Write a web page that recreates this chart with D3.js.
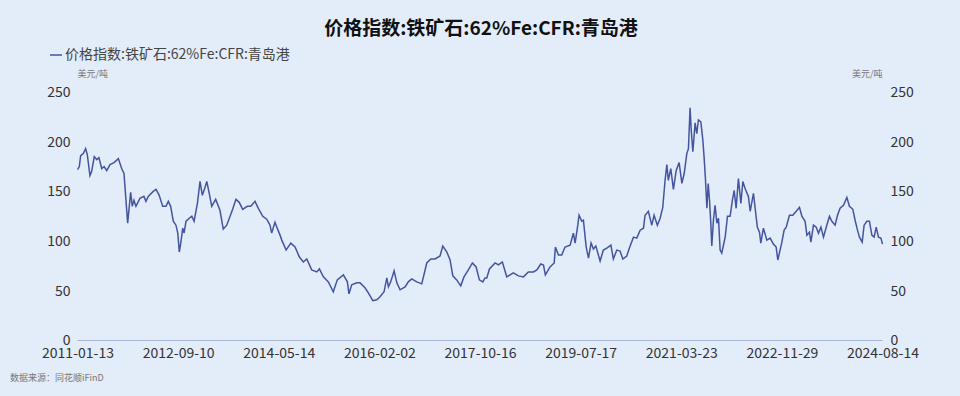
<!DOCTYPE html>
<meta charset="utf-8">
<script src="https://cdn.jsdelivr.net/npm/d3@7/dist/d3.min.js"></script>
<style>
body {
  margin: 0;
  background: #e3ecf9;
  font-family: "Microsoft YaHei", "Noto Sans CJK SC", sans-serif;
}
.title {
  font-size: 19px;
  font-weight: bold;
  fill: #111;
}
.legend-text {
  font-size: 14px;
  fill: #444;
}
.unit, .source {
  font-size: 9px;
  fill: #777;
}
.axis text {
  font-size: 14px;
  fill: #333;
  font-family: "Microsoft YaHei", "Noto Sans CJK SC", sans-serif;
}
.axis--x path {
  stroke: #a9b8d2;
}
.line {
  fill: none;
  stroke: #4455a0;
  stroke-width: 1.5px;
}
</style>
<body>
<div id="chart"></div>
<script>
var seriesName = "价格指数:铁矿石:62%Fe:CFR:青岛港";
var unitLabel = "美元/吨";
var sourceLabel = "数据来源：同花顺iFinD";

var tickLabels = ["2011-01-13", "2012-09-10", "2014-05-14", "2016-02-02", "2017-10-16",
  "2019-07-17", "2021-03-23", "2022-11-29", "2024-08-14"];
var yTicks = [0, 50, 100, 150, 200, 250];

var dates = [
  "2011-01-13","2011-01-24","2011-02-01","2011-02-17","2011-03-03","2011-03-13","2011-03-29","2011-04-08",
  "2011-04-24","2011-05-09","2011-05-22","2011-06-08","2011-06-22","2011-07-08","2011-07-28","2011-08-21",
  "2011-09-16","2011-10-06","2011-10-20","2011-11-01","2011-11-11","2011-11-21","2011-11-29","2011-12-09",
  "2011-12-19","2011-12-31","2012-01-24","2012-02-17","2012-02-29","2012-03-14","2012-04-13","2012-04-30",
  "2012-05-19","2012-06-09","2012-06-29","2012-07-13","2012-07-27","2012-08-12","2012-08-28","2012-09-08",
  "2012-09-17","2012-09-26","2012-10-08","2012-10-16","2012-10-28","2012-11-17","2012-12-02","2012-12-16",
  "2013-01-05","2013-01-21","2013-02-04","2013-02-20","2013-03-03","2013-03-18","2013-04-02","2013-04-26",
  "2013-05-22","2013-06-11","2013-07-02","2013-07-18","2013-08-07","2013-08-27","2013-09-16","2013-10-07",
  "2013-11-04","2013-11-25","2013-12-21","2014-01-10","2014-02-06","2014-03-02","2014-03-22","2014-04-01",
  "2014-04-21","2014-05-05","2014-05-22","2014-06-02","2014-06-29","2014-07-28","2014-08-24","2014-09-20",
  "2014-10-15","2014-11-05","2014-12-06","2015-01-07","2015-01-23","2015-02-17","2015-03-20","2015-04-20",
  "2015-05-15","2015-06-22","2015-07-17","2015-07-27","2015-08-13","2015-09-14","2015-10-04","2015-11-04",
  "2015-11-25","2015-12-23","2016-01-17","2016-02-06","2016-03-02","2016-03-19","2016-03-29","2016-04-12",
  "2016-05-03","2016-05-20","2016-06-09","2016-07-10","2016-07-30","2016-08-20","2016-09-20","2016-10-21",
  "2016-11-21","2016-12-16","2017-01-11","2017-02-11","2017-02-28","2017-03-25","2017-04-14","2017-05-01",
  "2017-05-25","2017-06-19","2017-07-09","2017-08-05","2017-08-30","2017-09-22","2017-10-12","2017-11-03",
  "2017-11-17","2017-11-28","2017-12-15","2018-01-20","2018-02-10","2018-03-07","2018-04-04","2018-05-16",
  "2018-06-17","2018-07-19","2018-08-19","2018-09-20","2018-10-12","2018-11-06","2018-11-23","2018-12-05",
  "2019-01-04","2019-01-30","2019-02-07","2019-02-26","2019-03-19","2019-04-09","2019-05-11","2019-06-01",
  "2019-06-12","2019-06-29","2019-07-07","2019-07-24","2019-08-03","2019-08-20","2019-09-03","2019-09-19",
  "2019-10-03","2019-10-18","2019-11-13","2019-12-03","2019-12-24","2020-01-18","2020-02-02","2020-02-23",
  "2020-03-14","2020-03-31","2020-04-24","2020-05-10","2020-06-04","2020-06-24","2020-07-15","2020-08-04",
  "2020-08-14","2020-09-03","2020-09-24","2020-10-08","2020-10-28","2020-11-14","2020-11-30","2020-12-14",
  "2020-12-25","2021-01-03","2021-01-18","2021-02-03","2021-02-20","2021-03-10","2021-03-27","2021-04-10",
  "2021-04-26","2021-05-06","2021-05-16","2021-05-23","2021-06-02","2021-06-16","2021-06-26","2021-07-06",
  "2021-07-21","2021-08-02","2021-08-10","2021-08-18","2021-08-27","2021-09-04","2021-09-12","2021-09-20",
  "2021-09-26","2021-10-06","2021-10-16","2021-10-27","2021-11-06","2021-11-16","2021-11-26","2021-12-17",
  "2021-12-31","2022-01-16","2022-01-30","2022-02-10","2022-02-22","2022-03-08","2022-03-23","2022-04-04",
  "2022-04-18","2022-05-08","2022-05-19","2022-06-08","2022-06-24","2022-07-02","2022-07-15","2022-07-23",
  "2022-08-08","2022-08-29","2022-09-18","2022-10-08","2022-10-25","2022-11-04","2022-11-18","2022-11-29",
  "2022-12-13","2022-12-26","2023-01-15","2023-02-05","2023-02-26","2023-03-18","2023-04-02","2023-04-22",
  "2023-05-03","2023-05-19","2023-05-28","2023-06-13","2023-06-30","2023-07-14","2023-07-29","2023-08-14",
  "2023-08-31","2023-09-20","2023-10-05","2023-10-25","2023-11-09","2023-11-25","2023-12-16","2024-01-06",
  "2024-01-22","2024-02-12","2024-02-26","2024-03-12","2024-03-24","2024-04-10","2024-04-22","2024-05-09",
  "2024-05-25","2024-06-09","2024-06-23","2024-07-06","2024-07-20","2024-08-04","2024-08-14"
];

var prices = [
  172,175,186,188,193,187,166,170,
  185,182,184,173,175,171,177,179,
  183,173,168,141,118,135,149,135,
  141,135,143,145,140,145,150,152,
  146,135,135,140,135,120,116,108,
  89,98,113,108,120,123,125,120,
  138,160,146,154,160,148,135,142,
  131,112,116,123,132,142,139,132,
  135,135,140,133,125,122,116,108,
  119,113,106,101,91,98,94,84,
  79,82,71,69,72,64,59,49,
  61,66,59,47,56,58,58,53,
  48,40,41,44,49,63,54,59,
  70,58,51,54,59,62,59,57,
  78,82,82,85,95,89,81,65,
  61,55,64,71,78,74,61,59,
  63,63,72,78,76,79,64,68,
  65,64,69,69,71,77,76,66,
  74,78,94,86,86,94,96,108,
  98,116,126,120,121,94,83,98,
  92,95,80,91,93,96,82,91,
  90,82,85,93,104,103,111,113,
  126,130,116,126,116,123,134,161,
  177,161,173,152,171,179,158,168,
  188,193,234,212,190,219,208,222,
  220,202,184,163,133,158,141,118,
  95,121,136,118,123,91,88,104,
  125,125,141,151,133,163,138,160,
  153,145,130,148,125,114,109,98,
  113,101,103,97,94,81,91,99,
  111,114,126,126,130,134,125,120,
  106,109,99,116,114,108,114,104,
  114,125,120,116,126,133,136,144,
  135,132,121,111,104,99,116,120,
  120,106,104,114,104,103,97
];

var width = 960, height = 396;
var plotLeft = 77.5, plotRight = 882.5, plotTop = 92, plotBottom = 340.5;

var parseDate = d3.timeParse("%Y-%m-%d");
var tickDates = tickLabels.map(parseDate);
var data = dates.map(function(d, i) { return {date: parseDate(d), value: prices[i]}; });

// category-like axis: tick dates sit at equal spacing
var x = d3.scaleTime()
    .domain(tickDates)
    .range(tickDates.map(function(d, i) {
      return plotLeft + i * (plotRight - plotLeft) / (tickDates.length - 1);
    }));
var y = d3.scaleLinear().domain([0, 250]).range([plotBottom, plotTop]);

var svg = d3.select("#chart").append("svg")
    .attr("width", width)
    .attr("height", height);

svg.append("text")
    .attr("class", "title")
    .attr("x", 481)
    .attr("y", 35)
    .attr("text-anchor", "middle")
    .text(seriesName);

// legend
svg.append("line")
    .attr("x1", 50).attr("x2", 62)
    .attr("y1", 55).attr("y2", 55)
    .attr("stroke", "#4455a0")
    .attr("stroke-width", 1.5);
svg.append("text")
    .attr("class", "legend-text")
    .attr("x", 65)
    .attr("y", 59)
    .text(seriesName);

svg.append("text")
    .attr("class", "unit")
    .attr("x", plotLeft)
    .attr("y", 77)
    .text(unitLabel);
svg.append("text")
    .attr("class", "unit")
    .attr("x", plotRight)
    .attr("y", 77)
    .attr("text-anchor", "end")
    .text(unitLabel);

svg.append("g")
    .attr("class", "axis axis--y")
    .attr("transform", "translate(" + (plotLeft - 7) + ",0)")
    .call(d3.axisLeft(y).tickValues(yTicks).tickSize(0).tickPadding(0))
    .call(function(g) { g.select(".domain").remove(); });

svg.append("g")
    .attr("class", "axis axis--y2")
    .attr("transform", "translate(" + (plotRight + 8) + ",0)")
    .call(d3.axisRight(y).tickValues(yTicks).tickSize(0).tickPadding(0))
    .call(function(g) { g.select(".domain").remove(); });

svg.append("g")
    .attr("class", "axis axis--x")
    .attr("transform", "translate(0," + plotBottom + ")")
    .call(d3.axisBottom(x).tickValues(tickDates).tickSize(0).tickPadding(8)
      .tickFormat(d3.timeFormat("%Y-%m-%d")))
    .call(function(g) { g.select(".domain").attr("d", "M" + plotLeft + ",0H" + plotRight); });

var line = d3.line()
    .x(function(d) { return x(d.date); })
    .y(function(d) { return y(d.value); });

svg.append("path")
    .datum(data)
    .attr("class", "line")
    .attr("d", line);

svg.append("text")
    .attr("class", "source")
    .attr("x", 10)
    .attr("y", 381)
    .text(sourceLabel);
</script>
</body>
